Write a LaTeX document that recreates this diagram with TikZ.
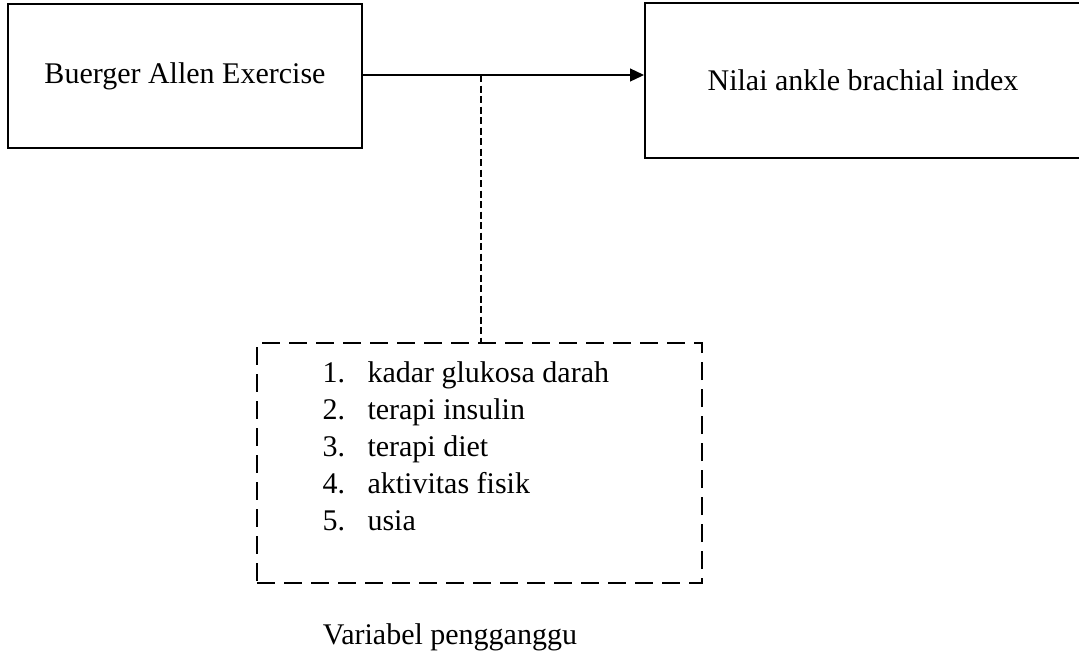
\documentclass[tikz,border=0pt]{standalone}
\usepackage{fontspec}
\setmainfont{Liberation Serif}
\usetikzlibrary{arrows.meta,positioning}

\begin{document}
\begin{tikzpicture}[x=0.4pt,y=-0.4pt,
    font=\fontsize{12}{14.8}\selectfont,
    box/.style={draw=black,line width=0.8pt,inner sep=0pt,align=center},
    dbox/.style={draw=black,line width=0.8pt,dash pattern=on 7.2pt off 3.6pt,inner sep=0pt},
    >={Triangle[length=5.6pt,width=5.2pt]}]
  \useasboundingbox (0,0) rectangle (1079,655);
  % main boxes
  \node[box,minimum width=354*0.4pt,minimum height=144*0.4pt] (BAE) at (185,76) {Buerger Allen Exercise};
  \node[box,minimum width=436*0.4pt,minimum height=155*0.4pt] (ABI) at (863,80) {Nilai ankle brachial index};
  % confounders
  \node[dbox,minimum width=445*0.4pt,minimum height=240*0.4pt] (VP) at (479.5,463) {};
  \node[anchor=north west,inner sep=0pt,align=left] (list) at (322,361.5)
    {\makebox[18pt][l]{1.}kadar glukosa darah\\
     \makebox[18pt][l]{2.}terapi insulin\\
     \makebox[18pt][l]{3.}terapi diet\\
     \makebox[18pt][l]{4.}aktivitas fisik\\
     \makebox[18pt][l]{5.}usia};
  \node (lbl) at (450,637) {Variabel pengganggu};
  \coordinate (J) at (481,75);
  \draw[->,line width=0.5pt] (BAE.east |- J) -- (ABI.west |- J);
  \draw[line width=0.5pt,dash pattern=on 2.8pt off 1.4pt] (J) -- (J |- VP.north);
\end{tikzpicture}
\end{document}
